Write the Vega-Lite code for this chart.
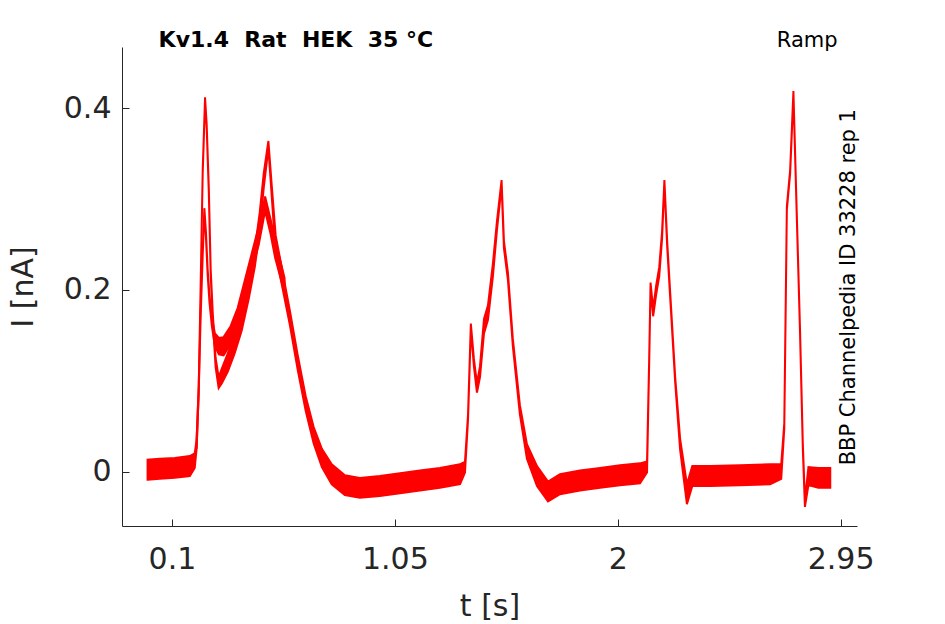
{
  "$schema": "https://vega.github.io/schema/vega-lite/v6.json",
  "width": 735,
  "height": 479,
  "autosize": {"type": "none"},
  "padding": {"left": 122, "top": 47, "right": 88, "bottom": 98},
  "background": "white",
  "config": {
    "view": {"stroke": null},
    "font": "DejaVu Sans",
    "axis": {
      "grid": false,
      "domainColor": "#262626",
      "tickColor": "#262626",
      "labelColor": "#262626",
      "titleColor": "#262626",
      "labelFont": "DejaVu Sans",
      "titleFont": "DejaVu Sans",
      "labelFontSize": 30,
      "titleFontSize": 30,
      "titleFontWeight": "normal",
      "tickSize": -7,
      "domainWidth": 1,
      "tickWidth": 1
    }
  },
  "datasets": {
    "trace": [
      {"s": "A", "t": -0.004, "lo": -0.009, "hi": 0.013},
      {"s": "A", "t": 0.048, "lo": -0.008, "hi": 0.014},
      {"s": "A", "t": 0.112, "lo": -0.007, "hi": 0.015},
      {"s": "A", "t": 0.176, "lo": -0.005, "hi": 0.017},
      {"s": "A", "t": 0.197, "lo": 0.004, "hi": 0.020},
      {"s": "A", "t": 0.205, "lo": 0.025, "hi": 0.035},
      {"s": "A", "t": 0.214, "lo": 0.087, "hi": 0.093},
      {"s": "A", "t": 0.222, "lo": 0.198, "hi": 0.202},
      {"s": "A", "t": 0.231, "lo": 0.328, "hi": 0.332},
      {"s": "A", "t": 0.241, "lo": 0.408, "hi": 0.412},
      {"s": "A", "t": 0.248, "lo": 0.378, "hi": 0.382},
      {"s": "A", "t": 0.257, "lo": 0.307, "hi": 0.313},
      {"s": "A", "t": 0.265, "lo": 0.217, "hi": 0.223},
      {"s": "A", "t": 0.274, "lo": 0.166, "hi": 0.174},
      {"s": "A", "t": 0.286, "lo": 0.115, "hi": 0.125},
      {"s": "A", "t": 0.299, "lo": 0.092, "hi": 0.104},
      {"s": "A", "t": 0.312, "lo": 0.097, "hi": 0.113},
      {"s": "A", "t": 0.338, "lo": 0.110, "hi": 0.130},
      {"s": "A", "t": 0.367, "lo": 0.130, "hi": 0.150},
      {"s": "A", "t": 0.397, "lo": 0.155, "hi": 0.175},
      {"s": "A", "t": 0.427, "lo": 0.190, "hi": 0.210},
      {"s": "A", "t": 0.453, "lo": 0.225, "hi": 0.245},
      {"s": "A", "t": 0.474, "lo": 0.265, "hi": 0.285},
      {"s": "A", "t": 0.491, "lo": 0.312, "hi": 0.328},
      {"s": "A", "t": 0.511, "lo": 0.356, "hi": 0.364},
      {"s": "A", "t": 0.525, "lo": 0.304, "hi": 0.316},
      {"s": "A", "t": 0.542, "lo": 0.240, "hi": 0.260},
      {"s": "A", "t": 0.572, "lo": 0.201, "hi": 0.219},
      {"s": "A", "t": 0.602, "lo": 0.162, "hi": 0.178},
      {"s": "A", "t": 0.636, "lo": 0.112, "hi": 0.128},
      {"s": "A", "t": 0.670, "lo": 0.067, "hi": 0.083},
      {"s": "A", "t": 0.704, "lo": 0.031, "hi": 0.049},
      {"s": "A", "t": 0.739, "lo": 0.005, "hi": 0.025},
      {"s": "A", "t": 0.781, "lo": -0.014, "hi": 0.008},
      {"s": "A", "t": 0.837, "lo": -0.026, "hi": -0.004},
      {"s": "A", "t": 0.901, "lo": -0.029, "hi": -0.007},
      {"s": "A", "t": 0.986, "lo": -0.027, "hi": -0.005},
      {"s": "A", "t": 1.072, "lo": -0.024, "hi": -0.002},
      {"s": "A", "t": 1.157, "lo": -0.021, "hi": 0.001},
      {"s": "A", "t": 1.242, "lo": -0.018, "hi": 0.004},
      {"s": "A", "t": 1.328, "lo": -0.014, "hi": 0.008},
      {"s": "A", "t": 1.349, "lo": -0.001, "hi": 0.011},
      {"s": "A", "t": 1.362, "lo": 0.057, "hi": 0.063},
      {"s": "A", "t": 1.374, "lo": 0.157, "hi": 0.163},
      {"s": "A", "t": 1.387, "lo": 0.116, "hi": 0.124},
      {"s": "A", "t": 1.400, "lo": 0.087, "hi": 0.097},
      {"s": "A", "t": 1.413, "lo": 0.104, "hi": 0.116},
      {"s": "A", "t": 1.430, "lo": 0.152, "hi": 0.168},
      {"s": "A", "t": 1.447, "lo": 0.167, "hi": 0.183},
      {"s": "A", "t": 1.468, "lo": 0.215, "hi": 0.229},
      {"s": "A", "t": 1.485, "lo": 0.265, "hi": 0.275},
      {"s": "A", "t": 1.505, "lo": 0.315, "hi": 0.321},
      {"s": "A", "t": 1.515, "lo": 0.246, "hi": 0.254},
      {"s": "A", "t": 1.532, "lo": 0.211, "hi": 0.219},
      {"s": "A", "t": 1.553, "lo": 0.138, "hi": 0.146},
      {"s": "A", "t": 1.583, "lo": 0.063, "hi": 0.073},
      {"s": "A", "t": 1.613, "lo": 0.014, "hi": 0.030},
      {"s": "A", "t": 1.656, "lo": -0.016, "hi": 0.006},
      {"s": "A", "t": 1.703, "lo": -0.033, "hi": -0.011},
      {"s": "A", "t": 1.754, "lo": -0.025, "hi": -0.003},
      {"s": "A", "t": 1.839, "lo": -0.021, "hi": 0.001},
      {"s": "A", "t": 1.925, "lo": -0.018, "hi": 0.004},
      {"s": "A", "t": 2.010, "lo": -0.015, "hi": 0.007},
      {"s": "A", "t": 2.095, "lo": -0.013, "hi": 0.009},
      {"s": "A", "t": 2.125, "lo": -0.001, "hi": 0.011},
      {"s": "A", "t": 2.134, "lo": 0.117, "hi": 0.123},
      {"s": "A", "t": 2.140, "lo": 0.202, "hi": 0.208},
      {"s": "A", "t": 2.151, "lo": 0.171, "hi": 0.179},
      {"s": "A", "t": 2.164, "lo": 0.195, "hi": 0.205},
      {"s": "A", "t": 2.177, "lo": 0.215, "hi": 0.225},
      {"s": "A", "t": 2.189, "lo": 0.256, "hi": 0.264},
      {"s": "A", "t": 2.199, "lo": 0.317, "hi": 0.321},
      {"s": "A", "t": 2.211, "lo": 0.247, "hi": 0.253},
      {"s": "A", "t": 2.224, "lo": 0.190, "hi": 0.196},
      {"s": "A", "t": 2.245, "lo": 0.098, "hi": 0.104},
      {"s": "A", "t": 2.266, "lo": 0.024, "hi": 0.036},
      {"s": "A", "t": 2.295, "lo": -0.036, "hi": -0.014},
      {"s": "A", "t": 2.318, "lo": -0.016, "hi": 0.006},
      {"s": "A", "t": 2.394, "lo": -0.016, "hi": 0.006},
      {"s": "A", "t": 2.522, "lo": -0.015, "hi": 0.007},
      {"s": "A", "t": 2.650, "lo": -0.014, "hi": 0.008},
      {"s": "A", "t": 2.697, "lo": -0.008, "hi": 0.008},
      {"s": "A", "t": 2.710, "lo": 0.047, "hi": 0.053},
      {"s": "A", "t": 2.721, "lo": 0.288, "hi": 0.292},
      {"s": "A", "t": 2.735, "lo": 0.328, "hi": 0.332},
      {"s": "A", "t": 2.749, "lo": 0.415, "hi": 0.419},
      {"s": "A", "t": 2.763, "lo": 0.283, "hi": 0.287},
      {"s": "A", "t": 2.777, "lo": 0.154, "hi": 0.158},
      {"s": "A", "t": 2.789, "lo": 0.025, "hi": 0.031},
      {"s": "A", "t": 2.798, "lo": -0.039, "hi": -0.031},
      {"s": "A", "t": 2.813, "lo": -0.015, "hi": 0.005},
      {"s": "A", "t": 2.855, "lo": -0.018, "hi": 0.004},
      {"s": "A", "t": 2.906, "lo": -0.018, "hi": 0.004},
      {"s": "B", "t": 0.205, "lo": 0.025, "hi": 0.035},
      {"s": "B", "t": 0.214, "lo": 0.087, "hi": 0.093},
      {"s": "B", "t": 0.222, "lo": 0.168, "hi": 0.172},
      {"s": "B", "t": 0.231, "lo": 0.238, "hi": 0.242},
      {"s": "B", "t": 0.238, "lo": 0.286, "hi": 0.290},
      {"s": "B", "t": 0.245, "lo": 0.257, "hi": 0.263},
      {"s": "B", "t": 0.252, "lo": 0.217, "hi": 0.223},
      {"s": "B", "t": 0.260, "lo": 0.186, "hi": 0.194},
      {"s": "B", "t": 0.270, "lo": 0.160, "hi": 0.170},
      {"s": "B", "t": 0.283, "lo": 0.138, "hi": 0.152},
      {"s": "B", "t": 0.300, "lo": 0.129, "hi": 0.147},
      {"s": "B", "t": 0.320, "lo": 0.128, "hi": 0.148},
      {"s": "B", "t": 0.350, "lo": 0.140, "hi": 0.160},
      {"s": "B", "t": 0.380, "lo": 0.160, "hi": 0.180},
      {"s": "B", "t": 0.410, "lo": 0.190, "hi": 0.210},
      {"s": "B", "t": 0.440, "lo": 0.220, "hi": 0.240},
      {"s": "B", "t": 0.470, "lo": 0.250, "hi": 0.270},
      {"s": "B", "t": 0.497, "lo": 0.287, "hi": 0.303},
      {"s": "B", "t": 0.520, "lo": 0.262, "hi": 0.278},
      {"s": "B", "t": 0.540, "lo": 0.235, "hi": 0.255},
      {"s": "B", "t": 0.560, "lo": 0.216, "hi": 0.234},
      {"s": "B", "t": 0.580, "lo": 0.197, "hi": 0.213}
    ],
    "notes": [{"title": "Kv1.4\u00a0 Rat\u00a0 HEK\u00a0 35 °C", "protocol": "Ramp", "source": "BBP Channelpedia ID 33228 rep 1"}]
  },
  "layer": [
    {
      "data": {"name": "trace"},
      "mark": {"type": "area", "color": "#ff0000", "stroke": "#ff0000", "strokeWidth": 2, "fillOpacity": 1},
      "encoding": {
        "x": {
          "field": "t", "type": "quantitative",
          "scale": {"domain": [-0.113, 3.02], "nice": false, "zero": false},
          "axis": {"values": [0.1, 1.05, 2, 2.95], "format": ".3~g", "title": "t [s]", "labelPadding": 25, "titlePadding": 17}
        },
        "y": {
          "field": "lo", "type": "quantitative",
          "scale": {"domain": [-0.06, 0.4675], "nice": false, "zero": false},
          "axis": {"values": [0, 0.2, 0.4], "format": ".3~g", "title": "I [nA]", "labelPadding": 18, "titlePadding": 25}
        },
        "y2": {"field": "hi"},
        "detail": {"field": "s"}
      }
    },
    {
      "data": {"name": "notes"},
      "mark": {"type": "text", "align": "left", "baseline": "alphabetic", "fontSize": 22, "fontWeight": "bold", "font": "DejaVu Sans", "color": "black"},
      "encoding": {
        "x": {"datum": 0.043, "type": "quantitative"},
        "y": {"datum": 0.4675, "type": "quantitative"},
        "text": {"field": "title"}
      }
    },
    {
      "data": {"name": "notes"},
      "mark": {"type": "text", "align": "center", "baseline": "alphabetic", "fontSize": 21, "font": "DejaVu Sans", "color": "black"},
      "encoding": {
        "x": {"datum": 2.808, "type": "quantitative"},
        "y": {"datum": 0.4675, "type": "quantitative"},
        "text": {"field": "protocol"}
      }
    },
    {
      "data": {"name": "notes"},
      "mark": {"type": "text", "align": "center", "baseline": "middle", "angle": 270, "fontSize": 21, "font": "DejaVu Sans", "color": "black"},
      "encoding": {
        "x": {"datum": 2.985, "type": "quantitative"},
        "y": {"datum": 0.203, "type": "quantitative"},
        "text": {"field": "source"}
      }
    }
  ]
}
